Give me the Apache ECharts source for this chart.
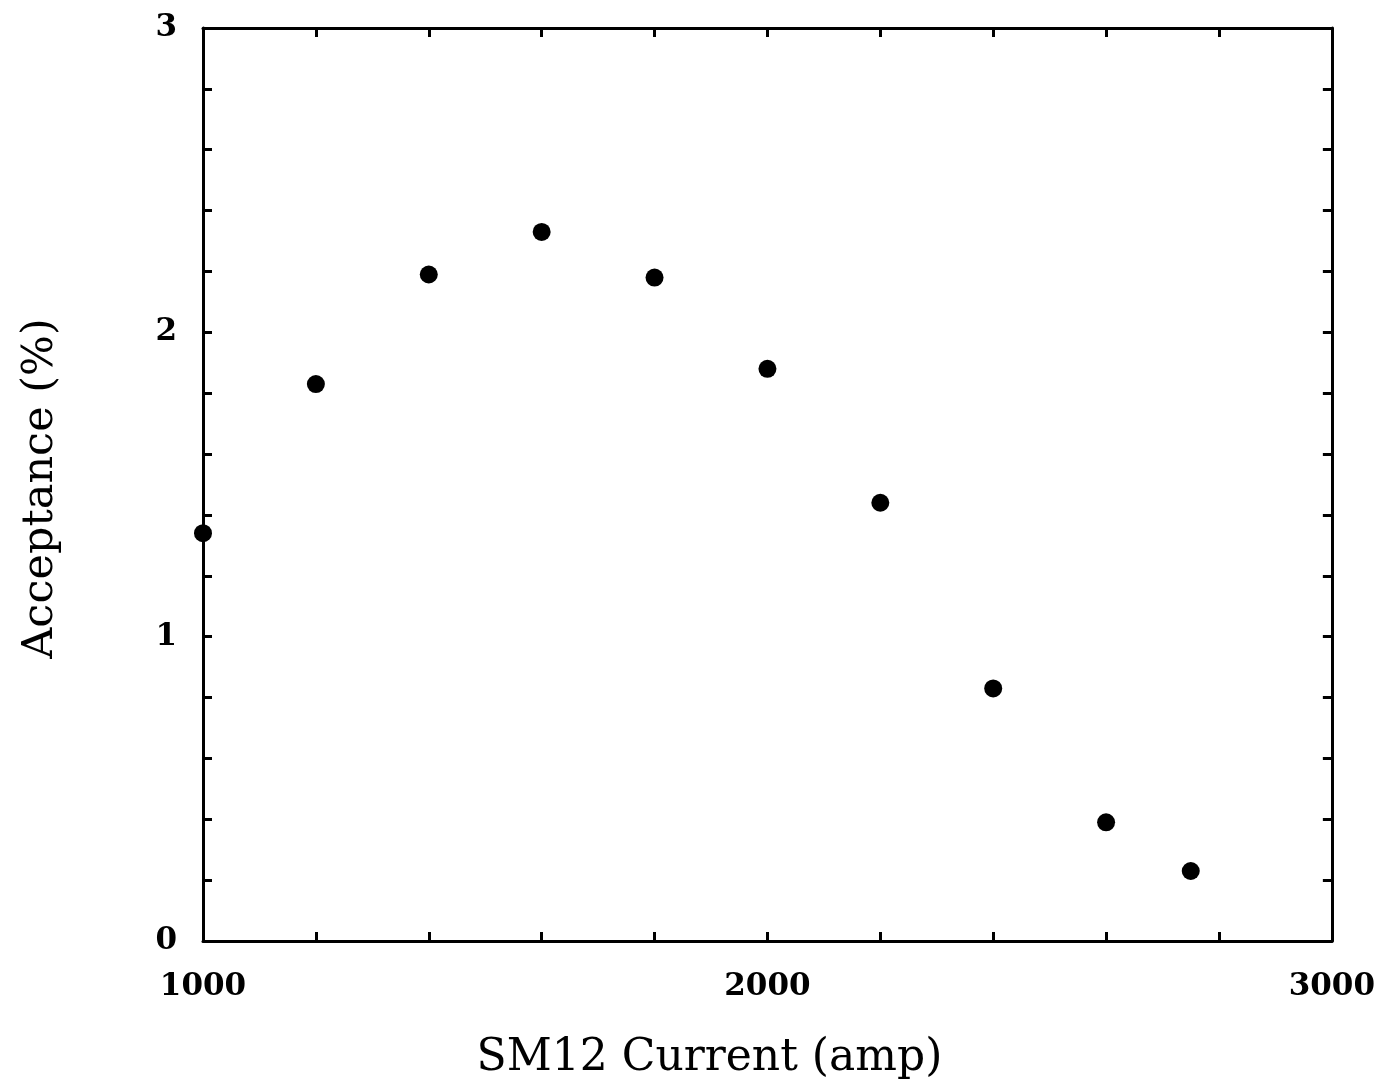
<!DOCTYPE html>
<html>
<head>
<meta charset="utf-8">
<script src="https://cdn.jsdelivr.net/npm/echarts@6/dist/echarts.min.js"></script>
<style>html,body{margin:0;padding:0;background:#fff}#c{width:1378px;height:1090px}</style>
</head>
<body>
<div id="c"></div>
<script>
const currents = [1000, 1200, 1400, 1600, 1800, 2000, 2200, 2400, 2600, 2750];
const acceptance = [1.34, 1.83, 2.19, 2.33, 2.18, 1.88, 1.44, 0.83, 0.39, 0.23];
const xLabels = [1000, 2000, 3000];
const yLabels = [0, 1, 2, 3];

const chart = echarts.init(document.getElementById('c'));
function lineStyle() { return {color: '#000', width: 3}; }
function tick() { return {show: true, inside: true, length: 9, lineStyle: {color: '#000', width: 3}}; }
const labelFont = {color: '#000', fontFamily: 'DejaVu Serif', fontWeight: 'bold', fontSize: 31};
const nameFont = {color: '#000', fontFamily: 'DejaVu Serif', fontSize: 43};
function xAxisBase(pos) {
  return {type: 'value', position: pos, min: 1000, max: 3000, interval: 200, splitLine: {show: false},
    axisLine: {show: true, onZero: false, lineStyle: lineStyle()}, axisTick: tick()};
}
function yAxisBase(pos) {
  return {type: 'value', position: pos, min: 0, max: 3, interval: 0.2, splitLine: {show: false},
    axisLine: {show: true, onZero: false, lineStyle: lineStyle()}, axisTick: tick()};
}
chart.setOption({
  animation: false,
  backgroundColor: '#fff',
  grid: {left: 203, top: 28, right: 45, bottom: 149},
  xAxis: [
    Object.assign(xAxisBase('bottom'), {
      name: 'SM12 Current (amp)', nameLocation: 'middle', nameGap: 96,
      nameTextStyle: Object.assign({}, nameFont, {fontSize: 44, padding: [0, 116, 0, 0]}),
      axisLabel: Object.assign({}, labelFont, {margin: 30,
        formatter: v => xLabels.includes(Math.round(v)) ? String(Math.round(v)) : ''})}),
    Object.assign(xAxisBase('top'), {axisLabel: {show: false}})
  ],
  yAxis: [
    Object.assign(yAxisBase('left'), {
      name: 'Acceptance (%)', nameLocation: 'middle', nameGap: 141,
      nameTextStyle: Object.assign({}, nameFont, {padding: [0, 8, 0, 0]}),
      axisLabel: Object.assign({}, labelFont, {margin: 26, padding: [6, 0, 0, 0],
        formatter: v => { const r = Math.round(v * 10) / 10; return yLabels.includes(r) ? String(r) : ''; }})}),
    Object.assign(yAxisBase('right'), {axisLabel: {show: false}})
  ],
  series: [{
    type: 'scatter', symbol: 'circle', symbolSize: 18,
    itemStyle: {color: '#000', opacity: 1},
    data: currents.map((c, i) => [c, acceptance[i]])
  }]
});
</script>
</body>
</html>
